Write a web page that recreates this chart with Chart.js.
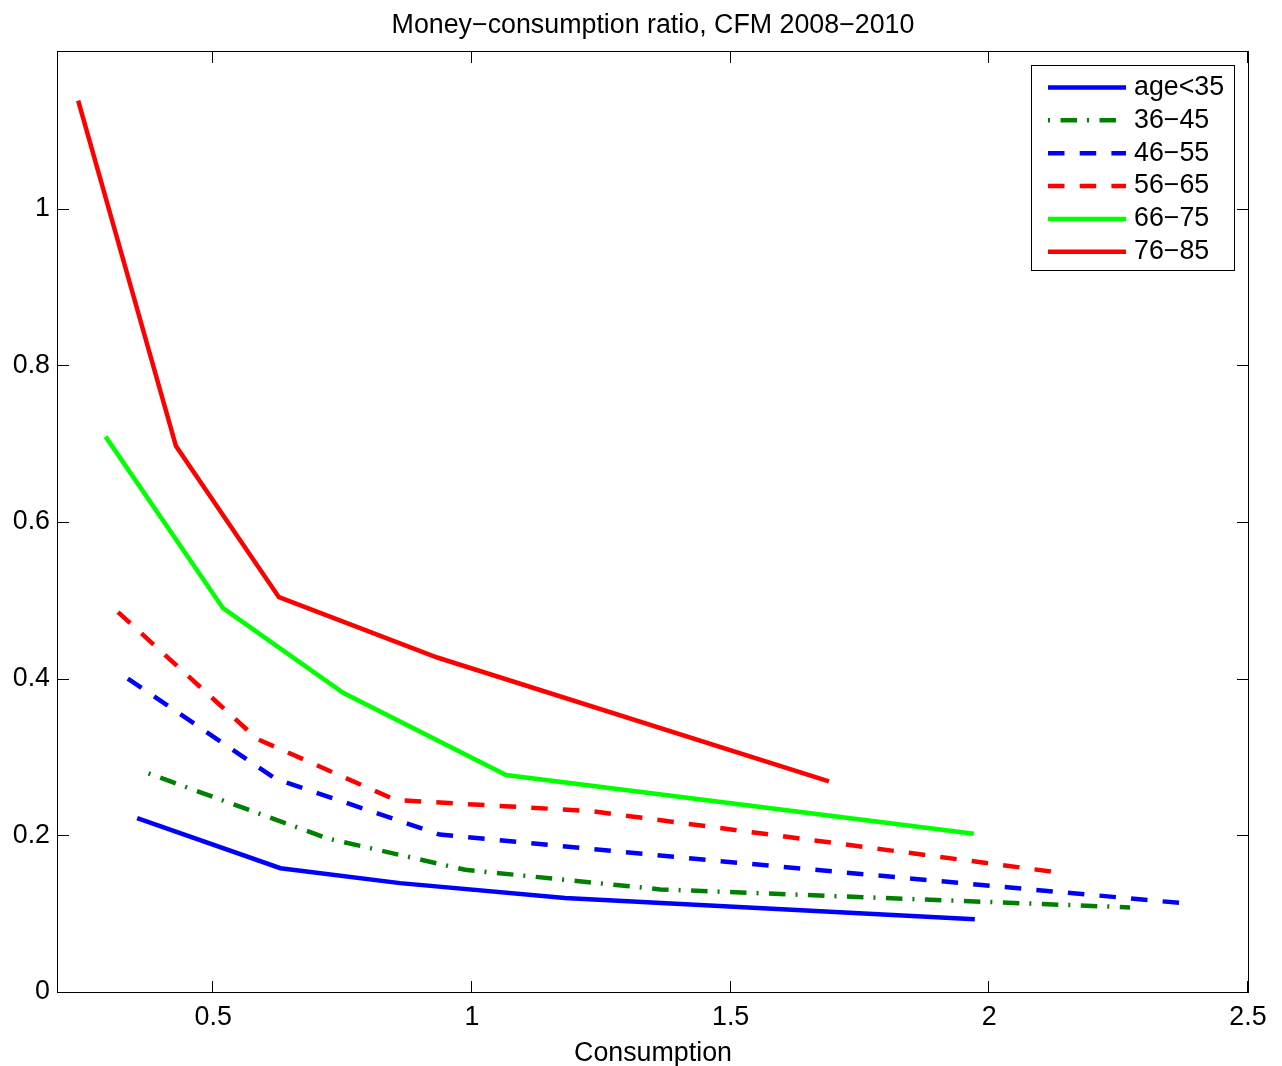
<!DOCTYPE html>
<html>
<head>
<meta charset="utf-8">
<title>Money-consumption ratio</title>
<script src="https://cdn.jsdelivr.net/npm/chart.js@4/dist/chart.umd.min.js"></script>
<style>
  html, body { margin: 0; padding: 0; background: #ffffff; }
  canvas { display: block; }
</style>
</head>
<body>
<canvas id="chart" width="1282" height="1066"></canvas>
<script>
// ---- text ----
const TITLE = 'Money\u2212consumption ratio, CFM 2008\u22122010';
const X_TITLE = 'Consumption';
const SERIES_NAMES = ['age<35', '36\u221245', '46\u221255', '56\u221265', '66\u221275', '76\u221285'];

// ---- axes ----
const X_TICKS = [0.5, 1, 1.5, 2, 2.5];
const X_TICK_LABELS = ['0.5', '1', '1.5', '2', '2.5'];
const Y_TICKS = [0, 0.2, 0.4, 0.6, 0.8, 1];
const Y_TICK_LABELS = ['0', '0.2', '0.4', '0.6', '0.8', '1'];

// ---- consumption (x) and money-consumption ratio (y) by age group ----
const X_AGE_35 = [0.353, 0.630, 0.861, 1.180, 1.972];
const Y_AGE_35 = [0.222, 0.158, 0.139, 0.120, 0.093];

const X_36_45 = [0.375, 0.721, 0.987, 1.364, 2.272];
const Y_36_45 = [0.279, 0.196, 0.156, 0.131, 0.108];

const X_46_55 = [0.335, 0.621, 0.938, 1.480, 2.380];
const Y_46_55 = [0.400, 0.272, 0.201, 0.167, 0.113];

const X_56_65 = [0.316, 0.585, 0.853, 1.230, 2.140];
const Y_56_65 = [0.485, 0.323, 0.245, 0.231, 0.152];

const X_66_75 = [0.292, 0.519, 0.751, 1.066, 1.970];
const Y_66_75 = [0.709, 0.490, 0.382, 0.277, 0.202];

const X_76_85 = [0.239, 0.428, 0.627, 0.933, 1.690];
const Y_76_85 = [1.138, 0.697, 0.504, 0.427, 0.269];

const FONT_FAMILY = "'Liberation Sans', Arial, Helvetica, sans-serif";
const FONT_SIZE = 26.8;
const TICK_LEN = 11;
const LINE_W = 4.5;
const DASHED = [16.5, 15.2];
const DASH_DOT = [2, 10.5, 16.5, 10];

function points(xs, ys) {
  return xs.map((x, i) => ({ x: x, y: ys[i] }));
}

function series(label, xs, ys, color, dash) {
  return {
    label: label,
    data: points(xs, ys),
    borderColor: color,
    backgroundColor: color,
    borderWidth: LINE_W,
    borderDash: dash,
    borderCapStyle: 'butt',
    borderJoinStyle: 'miter',
    pointRadius: 0,
    pointHoverRadius: 0,
    tension: 0,
    fill: false
  };
}

// Box around the plot with inward tick marks on all four sides
const axesFrame = {
  id: 'axesFrame',
  afterDatasetsDraw(chart) {
    const { ctx, chartArea: a, scales } = chart;
    const xs = scales.x, ys = scales.y;
    ctx.save();
    ctx.strokeStyle = '#000000';
    ctx.lineWidth = 1;
    ctx.setLineDash([]);
    ctx.strokeRect(a.left - 0.5, a.top - 0.5, a.right - a.left + 1, a.bottom - a.top + 1);
    ctx.beginPath();
    xs.ticks.forEach(t => {
      const px = Math.round(xs.getPixelForValue(t.value)) - 0.5;
      ctx.moveTo(px, a.bottom); ctx.lineTo(px, a.bottom - TICK_LEN);
      ctx.moveTo(px, a.top); ctx.lineTo(px, a.top + TICK_LEN);
    });
    ys.ticks.forEach(t => {
      const py = Math.round(ys.getPixelForValue(t.value)) + 0.5;
      ctx.moveTo(a.left, py); ctx.lineTo(a.left + TICK_LEN, py);
      ctx.moveTo(a.right, py); ctx.lineTo(a.right - TICK_LEN, py);
    });
    ctx.stroke();
    ctx.restore();
  }
};

// Boxed legend in the upper right corner of the plot
const boxLegend = {
  id: 'boxLegend',
  afterDraw(chart) {
    const { ctx, chartArea: a } = chart;
    const sets = chart.data.datasets;
    const width = 203, height = 205, rowH = 32.85;
    const right = a.right - 14, top = a.top + 13;
    const left = right - width;
    ctx.save();
    ctx.fillStyle = '#ffffff';
    ctx.fillRect(left, top, width, height);
    ctx.strokeStyle = '#000000';
    ctx.lineWidth = 1;
    ctx.setLineDash([]);
    ctx.strokeRect(left + 0.5, top + 0.5, width, height);
    sets.forEach((ds, i) => {
      const yy = top + 22.5 + i * rowH;
      ctx.save();
      ctx.strokeStyle = ds.borderColor;
      ctx.lineWidth = ds.borderWidth;
      ctx.lineCap = 'butt';
      ctx.setLineDash(ds.borderDash || []);
      ctx.beginPath();
      ctx.moveTo(left + 17, yy);
      ctx.lineTo(left + 95, yy);
      ctx.stroke();
      ctx.restore();
      ctx.fillStyle = '#000000';
      ctx.font = FONT_SIZE + 'px ' + FONT_FAMILY;
      ctx.textBaseline = 'middle';
      ctx.textAlign = 'left';
      ctx.fillText(ds.label, left + 103, yy);
    });
    ctx.restore();
  }
};

Chart.defaults.font.family = FONT_FAMILY;
Chart.defaults.color = '#000000';

const tickFont = { family: FONT_FAMILY, size: FONT_SIZE, lineHeight: 1.2 };

new Chart(document.getElementById('chart'), {
  type: 'line',
  data: {
    datasets: [
      series(SERIES_NAMES[0], X_AGE_35, Y_AGE_35, '#0000ff', []),
      series(SERIES_NAMES[1], X_36_45, Y_36_45, '#008000', DASH_DOT),
      series(SERIES_NAMES[2], X_46_55, Y_46_55, '#0000ff', DASHED),
      series(SERIES_NAMES[3], X_56_65, Y_56_65, '#ff0000', DASHED),
      series(SERIES_NAMES[4], X_66_75, Y_66_75, '#00ff00', []),
      series(SERIES_NAMES[5], X_76_85, Y_76_85, '#ff0000', [])
    ]
  },
  options: {
    responsive: false,
    animation: false,
    events: [],
    layout: { padding: { left: 0, right: 34, top: 0, bottom: 0 } },
    plugins: {
      legend: { display: false },
      tooltip: { enabled: false },
      title: {
        display: true,
        fullSize: false,
        text: TITLE,
        color: '#000000',
        font: { family: FONT_FAMILY, size: FONT_SIZE, weight: 'normal', lineHeight: 1 },
        padding: { top: 12, bottom: 13.2 }
      }
    },
    scales: {
      x: {
        type: 'linear',
        min: 0.2,
        max: 2.5,
        afterBuildTicks: s => { s.ticks = X_TICKS.map(v => ({ value: v })); },
        afterFit: s => { s.height = 74; },
        grid: { display: false, drawTicks: false },
        border: { display: false },
        ticks: {
          autoSkip: false,
          maxRotation: 0,
          minRotation: 0,
          padding: 9.5,
          color: '#000000',
          font: tickFont,
          callback: (v, i) => X_TICK_LABELS[i]
        },
        title: {
          display: true,
          text: X_TITLE,
          color: '#000000',
          font: { family: FONT_FAMILY, size: FONT_SIZE, lineHeight: 1 },
          padding: { top: 0, bottom: -1 }
        }
      },
      y: {
        type: 'linear',
        min: 0,
        max: 1.2,
        afterBuildTicks: s => { s.ticks = Y_TICKS.map(v => ({ value: v })); },
        afterFit: s => { s.width = 58; },
        grid: { display: false, drawTicks: false },
        border: { display: false },
        ticks: {
          autoSkip: false,
          padding: 8,
          color: '#000000',
          font: tickFont,
          callback: (v, i) => Y_TICK_LABELS[i]
        }
      }
    }
  },
  plugins: [axesFrame, boxLegend]
});
</script>
</body>
</html>
